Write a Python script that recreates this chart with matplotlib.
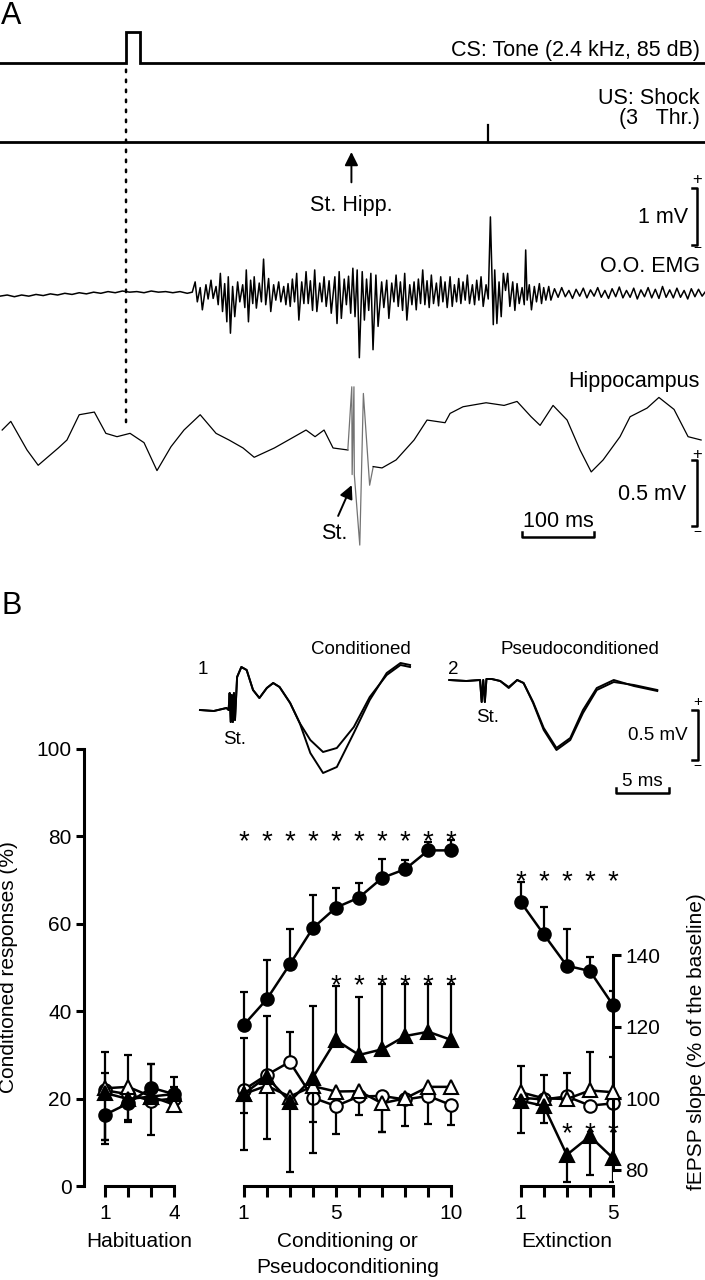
import numpy as np
import matplotlib
matplotlib.use("Agg")
import matplotlib.pyplot as plt
from matplotlib.patches import ConnectionPatch

plt.rcParams["font.family"] = ["Liberation Sans", "DejaVu Sans"]

W, H = 705, 1280

# ---------------- panel A data (ms, mV) ----------------
cs_onset, cs_dur = 0, 20
us_onset = 503
hipp_stim = 313

emg_t = [-175, -165, -155, -145, -135, -125, -115, -105, -95, -85, -75, -65, -55, -45,
         -35, -25, -15, -5, 5, 15, 25, 35, 45, 55, 65, 75, 85, 92,
         96, 99, 103, 106, 111, 114, 118, 121, 125, 128, 131, 134, 137, 140, 142, 145,
         148, 151, 155, 158, 162, 165, 167, 170, 173, 176, 178, 181, 185, 188, 191, 194,
         198, 201, 205, 208, 212, 215, 219, 222, 225, 228, 231, 234, 237, 240, 244, 247,
         250, 253, 256, 259, 262, 265, 269, 272, 275, 278, 282, 285, 290, 293, 296, 299,
         303, 306, 309, 312, 315, 318, 321, 324, 328, 331, 334, 337, 340, 343, 347, 350,
         355, 358, 362, 365, 369, 372, 375, 378, 381, 384, 387, 390, 394, 397, 400, 403,
         406, 409, 412, 415, 418, 421, 424, 427, 431, 434, 437, 440, 443, 446, 450, 453,
         456, 459, 462, 465, 468, 471, 474, 477, 481, 484, 487, 490, 493, 496, 500, 503,
         506, 510, 512, 515, 518, 521, 524, 527, 530, 533, 537, 540, 543, 546, 550, 553,
         555, 557, 560, 563, 567, 570, 574, 577, 580, 583, 587, 590,
         595, 600, 605, 610, 615, 620, 625, 630, 635, 640, 645, 650, 655, 660, 665, 670,
         675, 680, 685, 690, 695, 700, 705, 710, 715, 720, 725, 730, 735, 740, 745, 750,
         755, 760, 765, 770, 775, 780, 785, 790, 795, 800, 804]
emg_v = [-0.05, -0.03, -0.06, -0.03, -0.05, -0.02, -0.04, -0.01, -0.03, 0.0, -0.02, 0.01, -0.01, 0.02,
         0.0, 0.03, 0.01, 0.04, 0.02, 0.03, 0.01, 0.04, 0.02, 0.03, 0.01, 0.03, 0.0, 0.02,
         0.20, -0.15, 0.10, -0.29, 0.15, -0.10, 0.23, -0.09, 0.12, -0.20, 0.35, -0.32, 0.17, -0.50, 0.29, -0.70,
         0.12, -0.41, 0.20, -0.15, 0.15, -0.25, 0.41, -0.50, 0.23, -0.18, 0.29, -0.26, 0.18, -0.15, 0.60, -0.20,
         0.26, -0.32, 0.15, -0.12, 0.20, -0.15, 0.12, -0.20, 0.17, -0.23, 0.25, -0.15, 0.35, -0.47, 0.20, -0.18,
         0.38, -0.18, 0.22, -0.30, 0.41, -0.32, 0.18, -0.15, 0.29, -0.23, 0.22, -0.35, 0.29, -0.53, 0.38, -0.44,
         0.25, -0.20, 0.30, -0.35, 0.44, -0.41, 0.41, -1.13, 0.38, -0.47, 0.25, -0.30, 0.35, -0.99, 0.32, -0.58,
         0.20, -0.25, 0.23, -0.44, 0.18, -0.15, 0.32, -0.23, 0.20, -0.30, 0.35, -0.47, 0.15, -0.20, 0.20, -0.29,
         0.25, -0.18, 0.41, -0.20, 0.22, -0.25, 0.32, -0.18, 0.18, -0.22, 0.29, -0.15, 0.20, -0.25, 0.29, -0.23,
         0.15, -0.15, 0.26, -0.18, 0.20, -0.12, 0.32, -0.18, 0.15, -0.20, 0.23, -0.12, 0.29, -0.23, 0.15, -0.10,
         1.34, -0.55, 0.41, -0.53, 0.20, -0.41, 0.35, 0.05, 0.35, -0.23, 0.20, -0.30, 0.17, -0.18, 0.10, -0.20,
         0.76, -0.12, 0.15, -0.29, 0.12, -0.15, 0.17, -0.18, 0.10, -0.12, 0.12, -0.12,
         0.08, -0.07, 0.10, -0.06, 0.05, -0.09, 0.07, -0.05, 0.09, -0.08, 0.06, -0.05, 0.10, -0.07, 0.05, -0.09,
         0.08, -0.06, 0.11, -0.08, 0.05, -0.07, 0.09, -0.10, 0.06, -0.06, 0.10, -0.08, 0.07, -0.09, 0.12, -0.07,
         0.06, -0.08, 0.09, -0.07, 0.05, -0.10, 0.08, -0.06, 0.07, -0.05, 0.02]

hipp_t = [-172, -160, -137.5, -122, -94, -82, -65, -44, -28, -12.5, 5.6, 25, 43, 62.5, 80.5,
          103, 125, 143, 162.5, 178, 206, 230.5, 250, 262.5, 275, 287.5,
          308, 313.5, 314, 316.5, 317, 324.6, 329.6, 338.3, 343.3,
          355.5, 375, 400, 418, 443, 450, 468, 500, 525, 543, 562.5, 575, 593, 612.5,
          630.5, 646, 662.5, 686, 700, 723.6, 740, 761, 780.5, 798.6]
hipp_v = [0.075, 0.14, -0.075, -0.19, -0.06, 0.0, 0.19, 0.21, 0.05, 0.025, 0.05, -0.02, -0.23, -0.05, 0.075,
          0.19, 0.05, 0.0, -0.06, -0.13, -0.06, 0.015, 0.075, 0.025, 0.075, -0.06,
          -0.075, 0.40, -0.26, 0.40, -0.26, -0.79, 0.35, -0.34, -0.20,
          -0.21, -0.15, 0.0, 0.15, 0.13, 0.20, 0.25, 0.28, 0.26, 0.29, 0.175, 0.11, 0.26, 0.15,
          -0.075, -0.24, -0.15, 0.025, 0.175, 0.24, 0.32, 0.23, 0.025, 0.0]

# ---------------- panel B inset traces (ms, mV) ----------------
fp_shared_t = [0.0, 1.3, 2.5, 2.7, 2.8, 2.9, 3.0, 3.1, 3.2, 3.3, 3.5, 3.9, 4.4, 5.0, 5.6, 6.3, 6.9, 7.5, 8.5, 9.4]
fp_shared_v = [0.0, -0.01, 0.02, 0.0, 0.17, -0.12, 0.15, -0.12, 0.17, -0.10, 0.33, 0.43, 0.40, 0.20, 0.12,
               0.22, 0.27, 0.23, 0.07, -0.13]
fp_tail_t = [10.4, 11.6, 12.9, 14.5, 16.0, 17.6, 18.9, 19.8]
fp_cond_a = [-0.30, -0.42, -0.38, -0.17, 0.13, 0.35, 0.45, 0.43]
fp_cond_b = [-0.43, -0.63, -0.57, -0.23, 0.10, 0.37, 0.47, 0.45]

fp_pseudo_t = [0.0, 1.6, 2.9, 3.05, 3.2, 3.35, 3.5, 4.0, 4.8, 5.6, 6.4, 7.0, 7.9, 8.9, 10.1, 11.4,
               12.6, 13.9, 15.5, 17.4, 19.6]
fp_pseudo_a = [0.0, -0.01, 0.0, -0.22, 0.0, -0.22, 0.01, 0.01, -0.01, -0.08, 0.0, -0.03, -0.23, -0.50,
               -0.70, -0.60, -0.33, -0.10, -0.02, -0.05, -0.10]
fp_pseudo_b = [0.0, -0.01, 0.0, -0.22, 0.0, -0.22, 0.01, 0.01, -0.01, -0.07, 0.0, -0.03, -0.22, -0.48,
               -0.68, -0.58, -0.30, -0.08, 0.0, -0.06, -0.11]

# ---------------- panel B main data ----------------
groups = ["Habituation", "Conditioning or\nPseudoconditioning", "Extinction"]
group_sizes = [4, 10, 5]
session_labels = ["1", "", "", "4",
                  "1", "", "", "", "5", "", "", "", "", "10",
                  "1", "", "", "", "5"]

cr_cond = [16.3, 18.9, 22.5, 21.0,
           36.8, 42.7, 50.7, 59.0, 63.7, 66.0, 70.5, 72.5, 76.8, 76.8,
           65.0, 57.6, 50.4, 49.2, 41.4]
cr_cond_up = [0, 0, 5.4, 4.0,
              7.6, 9.1, 8.0, 7.7, 4.5, 3.4, 4.4, 2.2, 1.9, 2.3,
              4.6, 6.2, 8.3, 3.2, 3.2]
cr_cond_dn = [6.7, 4.2, 10.8, 0,
              0, 0, 0, 0, 0, 0, 0, 0, 0, 0,
              0, 0, 0, 0, 0]

cr_pseudo = [21.9, 21.0, 19.5, 20.0,
             22.0, 25.4, 28.4, 20.2, 18.3, 20.5, 20.6, 19.8, 20.6, 18.5,
             20.2, 19.8, 20.5, 18.4, 18.9]
cr_pseudo_up = [8.8, 0, 3.0, 0,
                0, 0, 6.9, 0, 0, 0, 0, 0, 0, 0,
                0, 0, 0, 0, 0]
cr_pseudo_dn = [11.4, 5.9, 0, 2.5,
                5.2, 0, 0, 5.5, 6.4, 4.3, 8.2, 6.1, 6.3, 4.6,
                0, 0, 0, 0, 0]

fepsp_cond = [101.5, 99.8, 100.5, 101.2,
              101.2, 106.0, 99.1, 105.8, 116.3, 112.1, 113.7, 117.4, 118.6, 116.3,
              99.3, 97.9, 84.2, 89.4, 83.3]
fepsp_cond_up = [5.5, 0, 0, 0,
                 15.6, 17.0, 0, 20.1, 15.2, 16.3, 18.3, 14.6, 13.4, 15.7,
                 0, 0, 0, 0, 0]
fepsp_cond_dn = [0, 0, 0, 0,
                 15.7, 17.4, 19.6, 21.2, 0, 0, 0, 0, 0, 0,
                 8.9, 4.7, 7.5, 10.8, 6.6]

fepsp_pseudo = [102.8, 103.2, 100.5, 98.2,
                101.2, 103.5, 100.5, 103.4, 101.9, 102.0, 98.6, 100.0, 103.2, 103.2,
                101.7, 100.0, 99.8, 102.2, 101.7]
fepsp_pseudo_up = [0, 9.0, 9.0, 5.0,
                   0, 0, 0, 0, 0, 0, 0, 0, 0, 0,
                   7.3, 6.5, 7.3, 10.8, 9.9]
fepsp_pseudo_dn = [14.4, 0, 0, 0,
                   0, 0, 0, 0, 0, 0, 7.9, 0, 0, 0,
                   0, 0, 0, 0, 0]

# asterisks: session indices (0-based over all 19)
star_cr = list(range(4, 14)) + list(range(14, 19))
star_cr_level = [80.7] * 10 + [71.5] * 5
star_fepsp = list(range(8, 14)) + [16, 17, 18]
star_fepsp_level = [47.8] * 6 + [13.9] * 3   # in left-axis units

fig = plt.figure(figsize=(W / 100, H / 100), dpi=100)

# ---------------- panel A ----------------
T0, T1 = -175, 804
T_RIGHT = 797


def strip(top, bottom, base, ppu):
    a = fig.add_axes([0, 1 - bottom / H, 1, (bottom - top) / H])
    a.set_xlim(T0, T1)
    a.set_ylim((base - bottom) / ppu, (base - top) / ppu)
    a.axis("off")
    return a


fs_a = 15.5
ax_cs = strip(0, 80, 63.3, 31.6)
ax_cs.plot([T0, cs_onset, cs_onset, cs_onset + cs_dur, cs_onset + cs_dur, T1],
           [0, 0, 1, 1, 0, 0], color="k", lw=2.0, solid_joinstyle="miter")
ax_cs.text(T_RIGHT, 0.40, "CS: Tone (2.4 kHz, 85 dB)", ha="right", va="center", fontsize=fs_a)

ax_us = strip(80, 215, 141.7, 16.7)
ax_us.plot([T0, T1], [0, 0], color="k", lw=2.0)
ax_us.plot([us_onset, us_onset], [0, 1], color="k", lw=1.6)
ax_us.text(T_RIGHT, 2.6, "US: Shock", ha="right", va="center", fontsize=fs_a)
ax_us.text(T_RIGHT, 1.4, "(3   Thr.)", ha="right", va="center", fontsize=fs_a)
ax_us.annotate("", xy=(hipp_stim, -0.45), xytext=(hipp_stim, -2.6),
               arrowprops=dict(arrowstyle="-|>", color="k", lw=1.4, mutation_scale=20))
ax_us.text(hipp_stim, -3.8, "St. Hipp.", ha="center", va="center", fontsize=fs_a)

ax_emg = strip(150, 370, 293.3, 57)
ax_emg.plot(emg_t, emg_v, color="k", lw=1.1)
ax_emg.plot([786, 793, 793, 786], [1.85, 1.85, 0.85, 0.85], color="k", lw=1.8)
ax_emg.text(793, 2.0, "+", ha="center", va="center", fontsize=12)
ax_emg.text(793, 0.80, "\u2212", ha="center", va="center", fontsize=10)
ax_emg.text(780, 1.33, "1 mV", ha="right", va="center", fontsize=fs_a)
ax_emg.text(T_RIGHT, 0.47, "O.O. EMG", ha="right", va="center", fontsize=fs_a)

ax_hip = strip(370, 560, 440, 133)
ht = np.array(hipp_t)
hv = np.array(hipp_v)
pre = ht <= 308
art = (ht >= 308) & (ht <= 343.3)
post = ht >= 343.3
ax_hip.plot(ht[pre], hv[pre], color="k", lw=0.9)
ax_hip.plot(ht[art], hv[art], color="0.45", lw=0.9)
ax_hip.plot(ht[post], hv[post], color="k", lw=0.9)
ax_hip.text(T_RIGHT, 0.44, "Hippocampus", ha="right", va="center", fontsize=fs_a)
ax_hip.plot([786, 793, 793, 786], [-0.15, -0.15, -0.65, -0.65], color="k", lw=1.8)
ax_hip.text(793, -0.11, "+", ha="center", va="center", fontsize=12)
ax_hip.text(793, -0.69, "\u2212", ha="center", va="center", fontsize=10)
ax_hip.text(778, -0.41, "0.5 mV", ha="right", va="center", fontsize=fs_a)
ax_hip.plot([550, 550, 650, 650], [-0.69, -0.73, -0.73, -0.69], color="k", lw=1.8)
ax_hip.text(600, -0.61, "100 ms", ha="center", va="center", fontsize=fs_a)
ax_hip.annotate("", xy=(hipp_stim + 2, -0.32), xytext=(hipp_stim - 20, -0.59),
                arrowprops=dict(arrowstyle="-|>", color="k", lw=1.4, mutation_scale=20))
ax_hip.text(hipp_stim - 24, -0.70, "St.", ha="center", va="center", fontsize=fs_a)

con = ConnectionPatch(xyA=(cs_onset, -0.2), coordsA=ax_cs.transData,
                      xyB=(cs_onset, 0.09), coordsB=ax_hip.transData,
                      color="k", lw=1.8, linestyle=(0, (1, 3)))
fig.add_artist(con)

fig.text(0.002, 1 - 16 / H, "A", fontsize=22, va="center", ha="left")
fig.text(0.002, 1 - 606 / H, "B", fontsize=22, va="center", ha="left")

# ---------------- panel B insets ----------------
fs_in = 13.5
ax_in = fig.add_axes([190 / W, 1 - 800 / H, (705 - 190) / W, 170 / H])
ax_in.set_xlim(-0.94, 47.6)
ax_in.set_ylim(-0.9, 0.8)
ax_in.axis("off")
pseudo_dt, pseudo_dv = 23.5, 0.30
for tail in (fp_cond_a, fp_cond_b):
    ax_in.plot(fp_shared_t + fp_tail_t, fp_shared_v + tail, color="k", lw=1.4)
for tr in (fp_pseudo_a, fp_pseudo_b):
    ax_in.plot(np.array(fp_pseudo_t) + pseudo_dt, np.array(tr) + pseudo_dv, color="k", lw=1.4)
ax_in.text(0.3, 0.40, "1", ha="center", va="center", fontsize=fs_in)
ax_in.text(19.9, 0.61, "Conditioned", ha="right", va="center", fontsize=fs_in)
ax_in.text(3.3, -0.29, "St.", ha="center", va="center", fontsize=fs_in)
ax_in.text(pseudo_dt + 0.4, 0.40, "2", ha="center", va="center", fontsize=fs_in)
ax_in.text(35.8, 0.61, "Pseudoconditioned", ha="center", va="center", fontsize=fs_in)
ax_in.text(27.1, -0.07, "St.", ha="center", va="center", fontsize=fs_in)
ax_in.plot([46.4, 46.9, 46.9, 46.4], [0.0, 0.0, -0.5, -0.5], color="k", lw=1.8)
ax_in.text(46.9, 0.08, "+", ha="center", va="center", fontsize=11)
ax_in.text(46.9, -0.56, "\u2212", ha="center", va="center", fontsize=10)
ax_in.text(46.0, -0.25, "0.5 mV", ha="right", va="center", fontsize=fs_in)
ax_in.plot([39.2, 39.2, 44.2, 44.2], [-0.78, -0.83, -0.83, -0.78], color="k", lw=1.8)
ax_in.text(41.7, -0.71, "5 ms", ha="center", va="center", fontsize=fs_in)

# ---------------- panel B main chart ----------------
ax = fig.add_axes([84 / W, 1 - 1186 / H, (613 - 84) / W, (1186 - 749) / H])
ax2 = ax.twinx()
ax.set_xlim(-0.91, 20.95)
ax.set_ylim(0, 100)
ax2.set_ylim(75.5, 197.6)

starts = np.cumsum([0] + group_sizes[:-1])
xpos = np.concatenate([np.arange(n) + s + 2 * i for i, (s, n) in enumerate(zip(starts, group_sizes))]).astype(float)

fs_b = 15
lw_ax = 2.2
for a in (ax, ax2):
    for s in a.spines.values():
        s.set_visible(False)
    a.patch.set_visible(False)
ax.spines["left"].set_visible(True)
ax.spines["left"].set_bounds(0, 100)
ax.spines["left"].set_linewidth(lw_ax)
ax2.spines["right"].set_visible(True)
ax2.spines["right"].set_bounds(80, 140)
ax2.spines["right"].set_linewidth(lw_ax)

ax.set_yticks([0, 20, 40, 60, 80, 100])
ax.tick_params(axis="y", direction="out", length=6, width=lw_ax, labelsize=fs_b, pad=3)
ax2.set_yticks([80, 100, 120, 140])
ax2.tick_params(axis="y", direction="out", length=6, width=lw_ax, labelsize=fs_b, pad=3)
ax.set_xticks(xpos)
ax.set_xticklabels(session_labels)
ax.tick_params(axis="x", direction="out", length=8, width=lw_ax, labelsize=fs_b, pad=5)

ax.set_ylabel("Conditioned responses (%)", fontsize=fs_b)
ax.yaxis.set_label_coords(-0.124, 0.5)
ax2.set_ylabel("fEPSP slope (% of the baseline)", fontsize=fs_b, rotation=90)
ax2.yaxis.set_label_coords(1.14, 0.33)

for i, (s, n) in enumerate(zip(starts, group_sizes)):
    gx = xpos[s:s + n]
    ax.plot([gx[0], gx[-1]], [0, 0], color="k", lw=lw_ax, clip_on=False, solid_capstyle="projecting")
    ax.text(gx.mean(), -10.6, groups[i], ha="center", va="top", fontsize=fs_b, linespacing=1.45)


def series(a, vals, up, dn, marker, face):
    vals = np.array(vals, dtype=float)
    up = np.array(up, dtype=float)
    dn = np.array(dn, dtype=float)
    m = up > 0
    a.errorbar(xpos[m], vals[m], yerr=[np.zeros(m.sum()), up[m]], fmt="none", ecolor="k",
               elinewidth=1.6, capsize=3, capthick=1.6, zorder=2)
    m = dn > 0
    a.errorbar(xpos[m], vals[m], yerr=[dn[m], np.zeros(m.sum())], fmt="none", ecolor="k",
               elinewidth=1.6, capsize=3, capthick=1.6, zorder=2)
    for s, n in zip(starts, group_sizes):
        a.plot(xpos[s:s + n], vals[s:s + n], color="k", lw=1.8, marker=marker,
               ms=9.0 if marker == "o" else 10.0,
               mfc=face, mec="k", mew=1.5, zorder=3, clip_on=False)


series(ax, cr_pseudo, cr_pseudo_up, cr_pseudo_dn, "o", "white")
series(ax, cr_cond, cr_cond_up, cr_cond_dn, "o", "k")
series(ax2, fepsp_pseudo, fepsp_pseudo_up, fepsp_pseudo_dn, "^", "white")
series(ax2, fepsp_cond, fepsp_cond_up, fepsp_cond_dn, "^", "k")

fs_star = 20
for i, lvl in zip(star_cr, star_cr_level):
    ax.annotate("*", (xpos[i], lvl), xytext=(0, -11.5), textcoords="offset points",
                ha="center", va="baseline", fontsize=fs_star)
for i, lvl in zip(star_fepsp, star_fepsp_level):
    ax.annotate("*", (xpos[i], lvl), xytext=(0, -11.5), textcoords="offset points",
                ha="center", va="baseline", fontsize=fs_star, zorder=5)

fig.savefig("out.png", dpi=100)
